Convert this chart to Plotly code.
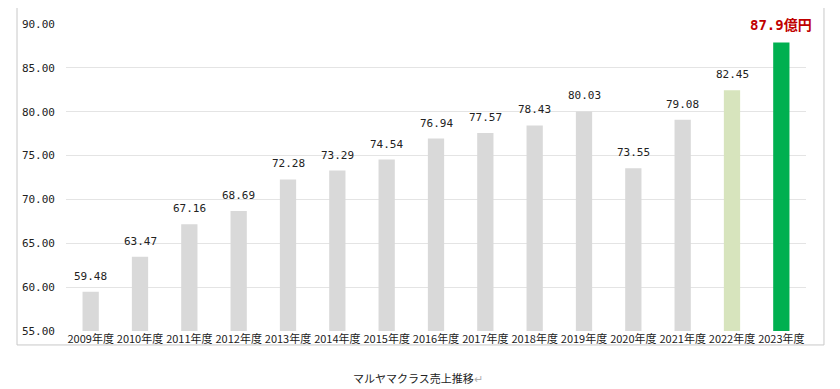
import plotly.graph_objects as go

categories = ["2009年度", "2010年度", "2011年度", "2012年度", "2013年度", "2014年度", "2015年度",
              "2016年度", "2017年度", "2018年度", "2019年度", "2020年度", "2021年度", "2022年度", "2023年度"]
values = [59.48, 63.47, 67.16, 68.69, 72.28, 73.29, 74.54, 76.94, 77.57, 78.43, 80.03, 73.55, 79.08, 82.45, 87.9]
labels = ["59.48", "63.47", "67.16", "68.69", "72.28", "73.29", "74.54", "76.94", "77.57", "78.43",
          "80.03", "73.55", "79.08", "82.45", "<b>87.9億円</b>"]
yticks = [55, 60, 65, 70, 75, 80, 85, 90]
ytick_text = ["55.00", "60.00", "65.00", "70.00", "75.00", "80.00", "85.00", "90.00"]
caption = "マルヤマクラス売上推移"

colors = ["#d9d9d9"] * 13 + ["#d7e4bd", "#00b050"]
text_colors = ["#222222"] * 14 + ["#c00000"]
text_sizes = [11] * 14 + [14]

FONT = "DejaVu Sans Mono, Noto Sans CJK JP, sans-serif"

fig = go.Figure(go.Bar(
    x=categories, y=values, marker_color=colors, marker_line_width=0,
))

annotations = [
    dict(x=c, y=v, xref="x", yref="y", text=t, showarrow=False, yanchor="bottom", yshift=7,
         font=dict(color=tc, size=ts, family=FONT))
    for c, v, t, tc, ts in zip(categories, values, labels, text_colors, text_sizes)
]
annotations.append(dict(xref="paper", yref="paper", x=0.475, y=-0.153, yanchor="middle", xanchor="center",
                        text=caption + "<span style='color:#b0b0b0'>↵</span>", showarrow=False,
                        font=dict(size=11, family="Noto Sans CJK JP", color="#222222")))

# page body has an 8px default margin; figure sized to compensate
fig.update_layout(
    width=832, height=381,
    margin=dict(l=58, r=34, t=15.5, b=58, autoexpand=False),
    paper_bgcolor="white", plot_bgcolor="white",
    bargap=0.67, showlegend=False,
    font=dict(family=FONT, size=11, color="#222222"),
    xaxis=dict(showgrid=False, showline=False, ticks="", tickfont=dict(size=11, family="Noto Sans CJK JP"),
               tickangle=0, range=[-0.5, len(categories) - 0.5], autorange=False),
    yaxis=dict(range=[55, 90], tickvals=yticks, ticktext=ytick_text, showgrid=True,
               gridcolor="#e4e4e4", gridwidth=1, zeroline=False, showline=False,
               ticklabelstandoff=10, tickfont=dict(size=11, family=FONT)),
    shapes=[dict(type="rect", xref="paper", yref="paper", x0=-0.0662, x1=1.0243, y0=-0.0455, y1=1.0569,
                 line=dict(color="#c8c8c8", width=1), fillcolor="rgba(0,0,0,0)", layer="below")],
    annotations=annotations,
)

fig.write_html("out.html")
